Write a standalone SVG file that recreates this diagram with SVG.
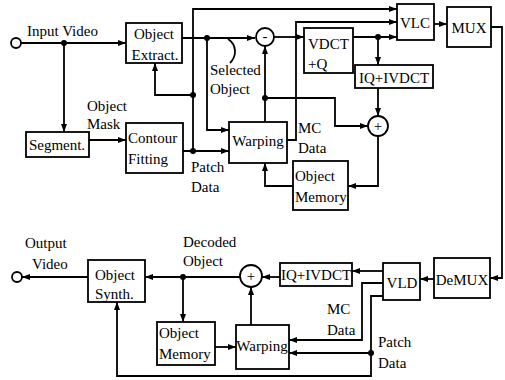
<svg xmlns="http://www.w3.org/2000/svg" width="505" height="380" viewBox="0 0 505 380">
<defs>
<marker id="a" viewBox="0 0 8 6" refX="8" refY="3" markerWidth="8" markerHeight="6" orient="auto" markerUnits="userSpaceOnUse"><path d="M0,0 L8,3 L0,6 z" fill="#000"/></marker>
<style>
.b{fill:#fff;stroke:#000;stroke-width:1.8}
.c{fill:none;stroke:#000;stroke-width:1.8;marker-end:url(#a)}
.l{fill:none;stroke:#000;stroke-width:1.8}
.d{fill:#000}
text{font-family:"Liberation Serif","Times New Roman",serif;font-size:15px;fill:#000}
.m{text-anchor:middle}
</style>
</defs>
<rect width="505" height="380" fill="#fff"/>
<g id="connectors">
<polyline class="c" points="21,43 126,43"/>
<polyline class="c" points="64,43 64,132"/>
<polyline class="c" points="89,140 126,140"/>
<polyline class="c" points="182,38 255,38"/>
<polyline class="c" points="207,38 207,130 229,130"/>
<polyline class="c" points="183,151 229,151"/>
<polyline class="c" points="193,151 193,9 397,9"/>
<polyline class="c" points="193,95 155,95 155,63"/>
<polyline class="c" points="265,122 265,46"/>
<polyline class="c" points="265,98 335,98 335,126 368,126"/>
<polyline class="c" points="274,37 304,37"/>
<polyline class="c" points="287,140 296,140 296,22 397,22"/>
<polyline class="c" points="353,37 397,37"/>
<polyline class="c" points="378,37 378,65"/>
<polyline class="c" points="378,88 378,116"/>
<polyline class="c" points="378,136 378,186 348,186"/>
<polyline class="c" points="293,186 265,186 265,163"/>
<polyline class="c" points="434,24 447,24"/>
<polyline class="c" points="491,27 502,27 502,278 490,278"/>
<polyline class="c" points="434,279 420,279"/>
<polyline class="c" points="383,271 352,271"/>
<polyline class="c" points="280,277 262,277"/>
<polyline class="c" points="240,277 145,277"/>
<polyline class="c" points="183,277 183,322"/>
<polyline class="c" points="88,277 22,277"/>
<polyline class="c" points="215,347 236,347"/>
<polyline class="c" points="251,325 251,287"/>
<polyline class="c" points="383,283 362,283 362,340 289,340"/>
<polyline class="c" points="383,296 371,296 371,376 117,376 117,302"/>
<polyline class="c" points="371,353 289,353"/>
<path class="l" d="M228,39 C237,45 237,56 230,63"/>
<circle class="d" cx="64" cy="43" r="3"/>
<circle class="d" cx="207" cy="38" r="3"/>
<circle class="d" cx="193" cy="151" r="3"/>
<circle class="d" cx="193" cy="95" r="3"/>
<circle class="d" cx="265" cy="98" r="3"/>
<circle class="d" cx="378" cy="37" r="3"/>
<circle class="d" cx="183" cy="277" r="3"/>
<circle class="d" cx="371" cy="353" r="3"/>
</g>
<g id="labels">
<text x="27" y="36">Input Video</text>
<text x="87" y="111">Object</text>
<text x="87" y="129">Mask</text>
<text x="210" y="75">Selected</text>
<text x="210" y="94">Object</text>
<text x="298" y="133">MC</text>
<text x="298" y="153">Data</text>
<text x="191" y="172">Patch</text>
<text x="191" y="192">Data</text>
<text x="25" y="248">Output</text>
<text x="32" y="269">Video</text>
<text x="183" y="247">Decoded</text>
<text x="183" y="266">Object</text>
<text x="327" y="314">MC</text>
<text x="327" y="335">Data</text>
<text x="378" y="347">Patch</text>
<text x="378" y="368">Data</text>
</g>
<g id="input"><circle class="b" cx="16" cy="43" r="5"/></g>
<g id="output"><circle class="b" cx="17" cy="277" r="5"/></g>
<g id="objextract"><rect class="b" x="126" y="23" width="56" height="40"/><text class="m" x="154" y="39">Object</text><text class="m" x="155" y="60">Extract.</text></g>
<g id="segment"><rect class="b" x="26" y="132" width="63" height="25"/><text class="m" x="57" y="150">Segment.</text></g>
<g id="contour"><rect class="b" x="126" y="123" width="57" height="50"/><text x="128" y="143">Contour</text><text x="128" y="164">Fitting</text></g>
<g id="warping1"><rect class="b" x="229" y="122" width="58" height="41"/><text class="m" x="258" y="146">Warping</text></g>
<g id="minus"><circle class="b" cx="265" cy="37" r="9"/><text class="m" x="265" y="41">-</text></g>
<g id="vdct"><rect class="b" x="304" y="28" width="49" height="45"/><text x="308" y="49">VDCT</text><text x="308" y="69">+Q</text></g>
<g id="vlc"><rect class="b" x="397" y="4" width="37" height="36"/><text class="m" x="415" y="28">VLC</text></g>
<g id="mux"><rect class="b" x="447" y="7" width="44" height="40"/><text class="m" x="469" y="33">MUX</text></g>
<g id="iq1"><rect class="b" x="355" y="65" width="78" height="23"/><text class="m" x="394" y="83">IQ+IVDCT</text></g>
<g id="plus1"><circle class="b" cx="378" cy="126" r="10"/><text class="m" x="378" y="131">+</text></g>
<g id="objmem1"><rect class="b" x="293" y="161" width="55" height="49"/><text x="295" y="181">Object</text><text x="295" y="202">Memory</text></g>
<g id="synth"><rect class="b" x="88" y="260" width="57" height="42"/><text x="95" y="280">Object</text><text x="95" y="299">Synth.</text></g>
<g id="plus2"><circle class="b" cx="251" cy="276" r="11"/><text class="m" x="251" y="281">+</text></g>
<g id="iq2"><rect class="b" x="280" y="263" width="72" height="23"/><text class="m" x="316" y="280">IQ+IVDCT</text></g>
<g id="vld"><rect class="b" x="383" y="263" width="37" height="37"/><text class="m" x="402" y="288">VLD</text></g>
<g id="demux"><rect class="b" x="434" y="258" width="56" height="40"/><text class="m" x="462" y="285">DeMUX</text></g>
<g id="objmem2"><rect class="b" x="157" y="322" width="58" height="43"/><text x="159" y="338">Object</text><text x="159" y="359">Memory</text></g>
<g id="warping2"><rect class="b" x="236" y="325" width="53" height="44"/><text class="m" x="262" y="351">Warping</text></g>
</svg>
